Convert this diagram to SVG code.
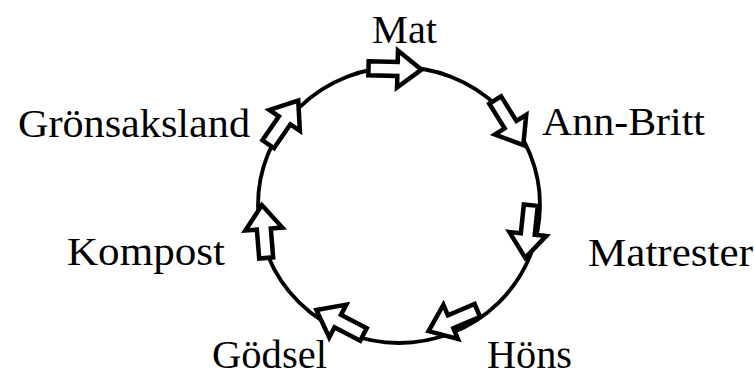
<svg xmlns="http://www.w3.org/2000/svg" width="754" height="376" viewBox="0 0 754 376">
<style>
.lbl{font-family:"Liberation Serif","Times New Roman",serif;font-size:39px;fill:#000}
.ring{fill:none;stroke:#000;stroke-width:3.8}
.arr{fill:#fff;stroke:#000;stroke-width:4.5;stroke-linejoin:miter}
</style>
<defs>
<path id="blk" d="M -27,-7 L 2,-7 L 2,-18.5 L 26,0 L 2,18.5 L 2,7 L -27,7 Z"/>
</defs>
<rect width="754" height="376" fill="#fff"/>
<g id="connectors">
<ellipse class="ring" cx="399" cy="205" rx="141" ry="138"/>
<use href="#blk" class="arr" transform="translate(395.5,69) rotate(1.5)"/>
<use href="#blk" class="arr" transform="translate(509.5,123) rotate(58)"/>
<use href="#blk" class="arr" transform="translate(528,232) rotate(96)"/>
<use href="#blk" class="arr" transform="translate(452.5,321) rotate(157)"/>
<use href="#blk" class="arr" transform="translate(339.5,322) rotate(207.4)"/>
<use href="#blk" class="arr" transform="translate(264,231) rotate(265.4)"/>
<use href="#blk" class="arr" transform="translate(283.5,122) rotate(-55.5)"/>
</g>
<g id="mat"><text class="lbl" x="372" y="43" textLength="65" lengthAdjust="spacingAndGlyphs">Mat</text></g>
<g id="ann-britt"><text class="lbl" x="542" y="135" textLength="163" lengthAdjust="spacingAndGlyphs">Ann-Britt</text></g>
<g id="matrester"><text class="lbl" x="588" y="266" textLength="165" lengthAdjust="spacingAndGlyphs">Matrester</text></g>
<g id="hons"><text class="lbl" x="487" y="368" textLength="85" lengthAdjust="spacingAndGlyphs">Höns</text></g>
<g id="godsel"><text class="lbl" x="212" y="368" textLength="115" lengthAdjust="spacingAndGlyphs">Gödsel</text></g>
<g id="kompost"><text class="lbl" x="67" y="265" textLength="158" lengthAdjust="spacingAndGlyphs">Kompost</text></g>
<g id="gronsaksland"><text class="lbl" x="18" y="137" textLength="232" lengthAdjust="spacingAndGlyphs">Grönsaksland</text></g>
</svg>
